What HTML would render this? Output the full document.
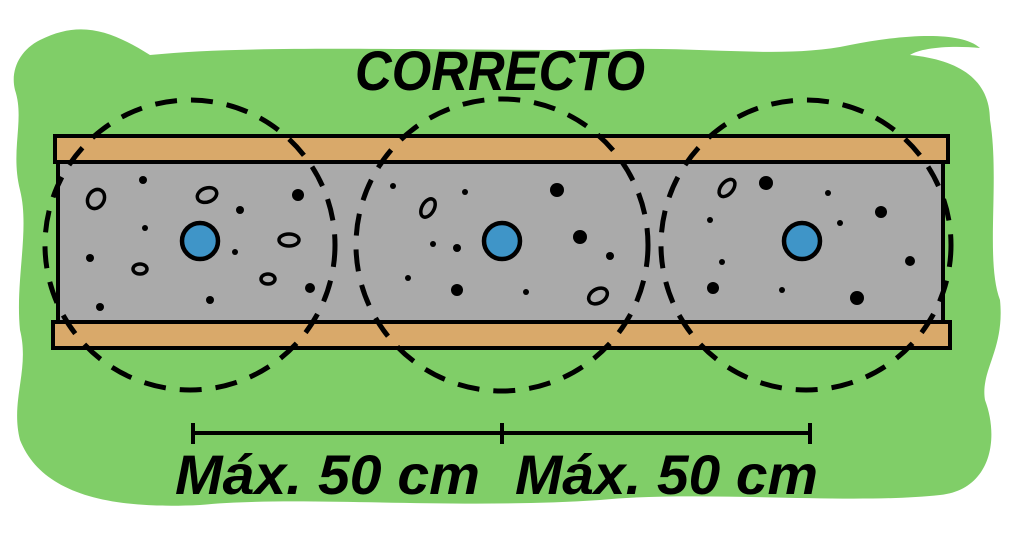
<!DOCTYPE html>
<html><head><meta charset="utf-8"><style>html,body{margin:0;padding:0;background:#fff}svg{display:block}</style></head>
<body>
<svg width="1024" height="540" viewBox="0 0 1024 540" xmlns="http://www.w3.org/2000/svg">
<path d="M40,40 C80,20 110,30 150,55 C250,45 400,50 600,50 C700,45 780,60 850,45 C900,35 960,30 980,48 C950,45 920,48 910,55 C960,60 990,80 990,120 C1000,180 985,260 1000,300 C1005,350 980,370 985,400 C1000,440 990,490 940,495 C850,505 700,490 600,500 C450,510 300,495 200,505 C100,510 40,490 20,440 C10,400 30,370 20,330 C15,280 30,230 20,190 C10,150 25,120 15,90 C10,70 20,50 40,40 Z" fill="#80ce68"/>
<text x="500" y="90" text-anchor="middle" font-family="Liberation Sans, sans-serif" font-weight="bold" font-style="italic" font-size="56" textLength="290" lengthAdjust="spacingAndGlyphs">CORRECTO</text>
<rect x="58" y="160" width="885" height="164" fill="#aaaaaa" stroke="#000" stroke-width="4"/>
<rect x="55" y="136" width="893" height="26" fill="#d9a96a" stroke="#000" stroke-width="4"/>
<rect x="53" y="322" width="897" height="26" fill="#d9a96a" stroke="#000" stroke-width="4"/>
<g fill="none" stroke="#000" stroke-width="5" stroke-dasharray="22 14">
<circle cx="190" cy="245" r="145"/><circle cx="502" cy="245" r="146"/><circle cx="806" cy="245" r="145"/>
</g>
<g fill="#3f95c8" stroke="#000" stroke-width="4.5">
<circle cx="200" cy="241" r="18"/><circle cx="502" cy="241" r="18"/><circle cx="802" cy="241" r="18"/>
</g>
<g fill="#000">
<circle cx="143" cy="180" r="4"/><circle cx="298" cy="195" r="6"/><circle cx="240" cy="210" r="4"/><circle cx="145" cy="228" r="3"/><circle cx="90" cy="258" r="4"/><circle cx="235" cy="252" r="3"/><circle cx="210" cy="300" r="4"/><circle cx="100" cy="307" r="4"/><circle cx="310" cy="288" r="5"/>
<circle cx="393" cy="186" r="3"/><circle cx="465" cy="192" r="3"/><circle cx="557" cy="190" r="7"/><circle cx="433" cy="244" r="3"/><circle cx="457" cy="248" r="4"/><circle cx="580" cy="237" r="7"/><circle cx="610" cy="256" r="4"/><circle cx="408" cy="278" r="3"/><circle cx="457" cy="290" r="6"/><circle cx="526" cy="292" r="3"/>
<circle cx="766" cy="183" r="7"/><circle cx="828" cy="193" r="3"/><circle cx="881" cy="212" r="6"/><circle cx="710" cy="220" r="3"/><circle cx="840" cy="223" r="3"/><circle cx="722" cy="262" r="3"/><circle cx="910" cy="261" r="5"/><circle cx="713" cy="288" r="6"/><circle cx="782" cy="290" r="3"/><circle cx="857" cy="298" r="7"/>
</g>
<g fill="none" stroke="#000" stroke-width="3.5">
<ellipse cx="96" cy="199" rx="8" ry="10" transform="rotate(30 96 199)"/><ellipse cx="207" cy="195" rx="10" ry="7" transform="rotate(-20 207 195)"/><ellipse cx="289" cy="240" rx="10" ry="6"/><ellipse cx="140" cy="269" rx="7" ry="5"/><ellipse cx="268" cy="279" rx="7" ry="5"/>
<ellipse cx="428" cy="208" rx="6" ry="10" transform="rotate(30 428 208)"/><ellipse cx="598" cy="296" rx="10" ry="7" transform="rotate(-30 598 296)"/><ellipse cx="727" cy="188" rx="6" ry="10" transform="rotate(40 727 188)"/>
</g>
<g stroke="#000" stroke-width="4">
<line x1="193" y1="433" x2="810" y2="433"/><line x1="193" y1="423" x2="193" y2="444"/><line x1="502" y1="423" x2="502" y2="444"/><line x1="810" y1="423" x2="810" y2="444"/>
</g>
<g font-family="Liberation Sans, sans-serif" font-weight="bold" font-style="italic" font-size="56">
<text x="175" y="494" textLength="305" lengthAdjust="spacingAndGlyphs">Máx. 50 cm</text>
<text x="515" y="494" textLength="303" lengthAdjust="spacingAndGlyphs">Máx. 50 cm</text>
</g>
</svg>
</body></html>
